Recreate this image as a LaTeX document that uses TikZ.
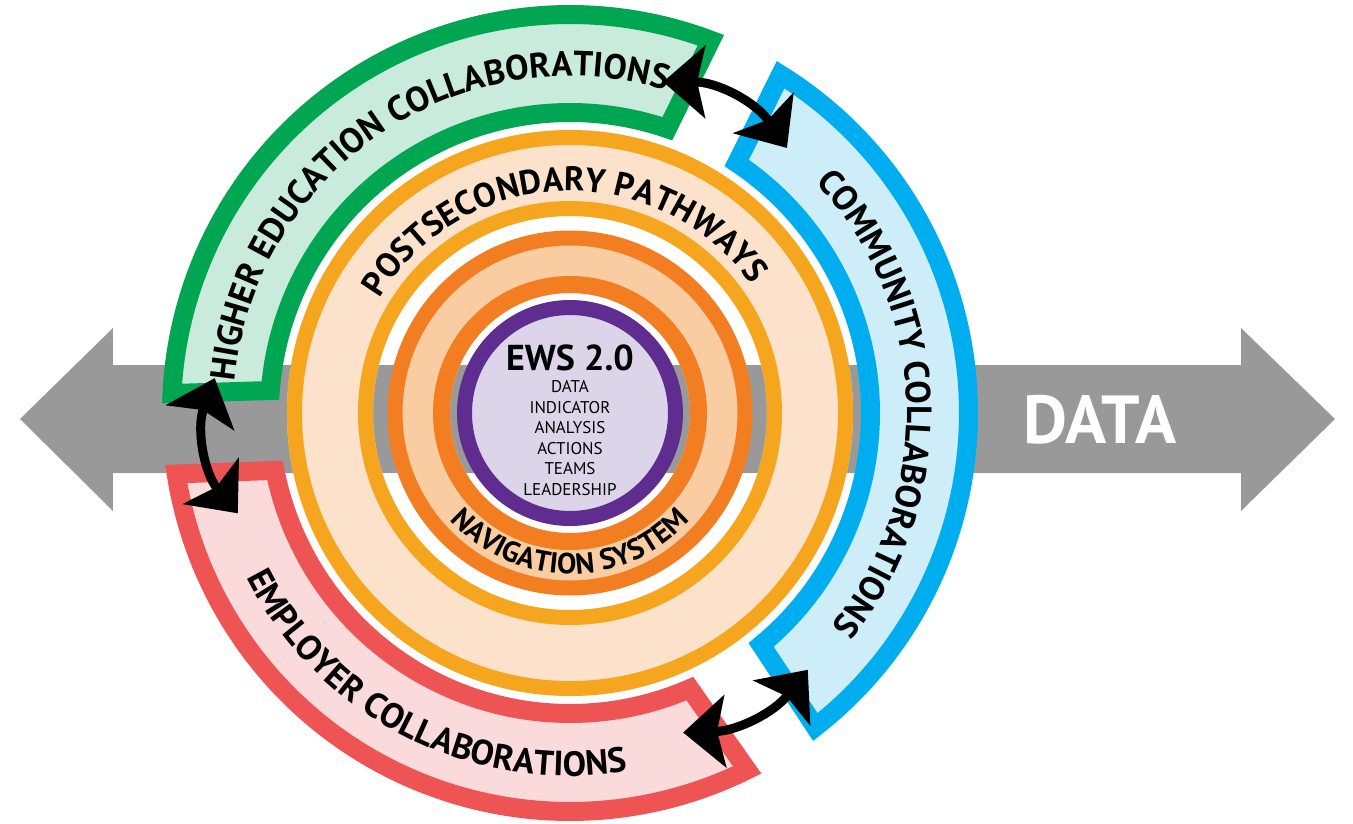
\documentclass[tikz,border=0pt]{standalone}
\usepackage{fontspec}
\setmainfont{PT Sans}
\usetikzlibrary{arrows.meta,decorations.text}

\definecolor{datagray}{HTML}{999999}
\definecolor{hegreen}{HTML}{00A651}
\definecolor{hegreenfill}{HTML}{C9EBDB}
\definecolor{ccblue}{HTML}{00AEEF}
\definecolor{ccbluefill}{HTML}{CDEDF9}
\definecolor{ecred}{HTML}{EF5455}
\definecolor{ecredfill}{HTML}{FBDADB}
\definecolor{psyellow}{HTML}{F6A51F}
\definecolor{psfill}{HTML}{FCE2CA}
\definecolor{navorange}{HTML}{F37E22}
\definecolor{navfill}{HTML}{F9CCA2}
\definecolor{ewspurple}{HTML}{5F2C90}
\definecolor{ewsfill}{HTML}{DCD4E8}

\newcommand{\bandfont}{\bfseries\fontsize{35}{35}\selectfont}
\newcommand{\pathfont}{\bfseries\fontsize{34}{34}\selectfont}
\newcommand{\navfont}{\bfseries\fontsize{29}{29}\selectfont}

\begin{document}
\begin{tikzpicture}[x=1pt, y=1pt,
		band/.style={line width=19pt, line join=miter},
		ring/.style={line width=15pt},
		biarrow/.style={line width=9pt,
			arrows={Stealth[length=42pt,width=72pt,inset=8pt]-Stealth[length=42pt,width=72pt,inset=8pt]}},
		ringtext/.style={decorate, decoration={text along path, text align=center, text={#1}}}]
		\useasboundingbox (-570,-410) rectangle (783,413);
		% data arrow behind everything
		\fill [datagray] (-550,-6) -- (-457,85) -- (-457,48) -- (671,48) -- (671,85) -- (765,-6)
			-- (671,-98) -- (671,-60) -- (-457,-60) -- (-457,-98) -- cycle;
		\node [text=white, font=\bfseries\fontsize{68}{68}\selectfont] (data) at (530,-7) {DATA};
		% collaboration bands
		\draw [band, draw=hegreen, fill=hegreenfill] (177.2:398.5pt) arc [start angle=177.2, end angle=69.3, radius=398.5pt]
			-- (71.1:300.5pt) arc [start angle=71.1, end angle=175.7, radius=300.5pt] -- cycle;
		\draw [band, draw=ccblue, fill=ccbluefill] (58.1:398.5pt) arc [start angle=58.1, end angle=-52, radius=398.5pt]
			-- (-50.5:300.5pt) arc [start angle=-50.5, end angle=56.3, radius=300.5pt] -- cycle;
		\draw [band, draw=ecred, fill=ecredfill] (188.8:398.5pt) arc [start angle=188.8, end angle=296.4, radius=398.5pt]
			-- (293.5:300.5pt) arc [start angle=293.5, end angle=191, radius=300.5pt] -- cycle;
		\path [ringtext={|\bandfont|HIGHER EDUCATION COLLABORATIONS}] (173.5:337pt) arc [start angle=173.5, end angle=74.5, radius=337pt];
		\path [ringtext={|\bandfont|COMMUNITY COLLABORATIONS}] (52:337pt) arc [start angle=52, end angle=-48, radius=337pt];
		\path [ringtext={|\bandfont|EMPLOYER COLLABORATIONS}] (190:363pt) arc [start angle=190, end angle=296, radius=363pt];
		% postsecondary pathways ring
		\fill [psfill, even odd rule] (0,0) circle (283pt) circle (197pt);
		\draw [ring, psyellow] (0,0) circle (275.5pt);
		\draw [ring, psyellow] (0,0) circle (204.5pt);
		\path [ringtext={|\pathfont|POSTSECONDARY PATHWAYS}] (170:222pt) arc [start angle=170, end angle=14, radius=222pt];
		% navigation system ring
		\fill [navfill, even odd rule] (0,0) circle (182pt) circle (120pt);
		\draw [ring, navorange] (0,0) circle (175pt);
		\draw [ring, navorange, line width=17pt] (0,0) circle (128.5pt);
		\path [ringtext={|\navfont|NAVIGATION SYSTEM}] (200:161pt) arc [start angle=200, end angle=340, radius=161pt];
		% EWS core
		\draw [ring, draw=ewspurple, fill=ewsfill] (0,0) circle (105.5pt);
		\node [font=\bfseries\fontsize{36}{36}\selectfont] (ews) at (0,55.5) {EWS 2.0};
		\node [align=center, font=\fontsize{17}{20.5}\selectfont] (ewslist) at (0,-25)
			{DATA\\INDICATOR\\ANALYSIS\\ACTIONS\\TEAMS\\LEADERSHIP};
		% arrows between bands
		\coordinate (heEnd) at (74.3:344pt);
		\coordinate (ccStart) at (50.7:342.5pt);
		\coordinate (ccEnd) at (-47.2:350pt);
		\coordinate (ecEnd) at (-70.5:339pt);
		\coordinate (heStart) at (174.4:357pt);
		\coordinate (ecStart) at (196.8:347pt);
		\draw [biarrow] (heEnd) to [bend left=28] (ccStart);
		\draw [biarrow] (ecEnd) to [bend right=25] (ccEnd);
		\draw [biarrow] (heStart) to [bend right=30] (ecStart);
	\end{tikzpicture}
\end{document}
